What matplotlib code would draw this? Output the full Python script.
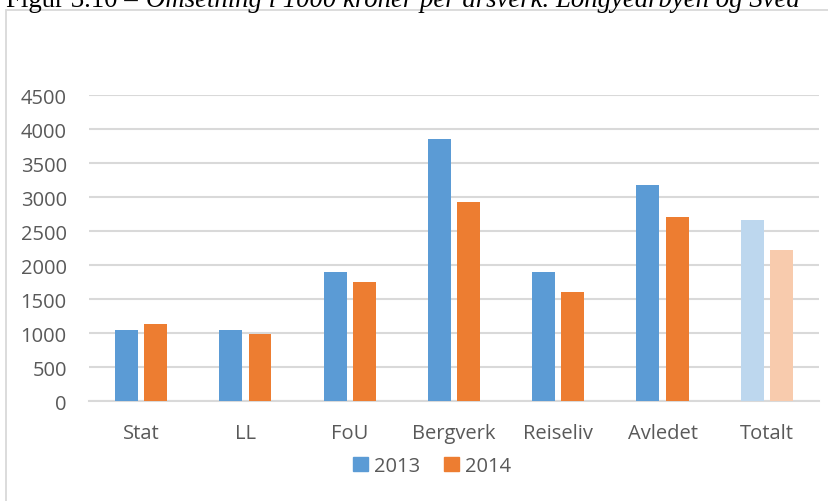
import matplotlib.pyplot as plt
import matplotlib.patches as mpatches
import numpy as np

# data
categories = ['Stat', 'LL', 'FoU', 'Bergverk', 'Reiseliv', 'Avledet', 'Totalt']
v2013 = [1050, 1055, 1900, 3860, 1900, 3180, 2665]
v2014 = [1140, 990, 1760, 2925, 1610, 2705, 2225]
series = ['2013', '2014']
yticks = [0, 500, 1000, 1500, 2000, 2500, 3000, 3500, 4000, 4500]

blue, orange = '#5B9BD5', '#ED7D31'
blue_l, orange_l = '#BDD7EE', '#F8CBAD'
grey_txt = '#595959'

fig = plt.figure(figsize=(8.29, 5.02), dpi=100)
W, H = 829, 502

# outer chart frame (light grey, runs off the image right/bottom)
fig.patches.append(mpatches.Rectangle((6 / W, -0.05), 1.0, 1 - 11 / H + 0.05,
                                      transform=fig.transFigure, fill=False,
                                      edgecolor='#D9D9D9', linewidth=1.3))

# cropped caption at the very top
cap_size = 19.3
t1 = fig.text(6 / W, 1 - 7 / H, 'Figur 3.10 – ', fontsize=cap_size,
              family='Liberation Serif', va='baseline', ha='left', color='black')
fig.canvas.draw()
bb = t1.get_window_extent()
fig.text(bb.x1 / W + 2 / W, 1 - 7 / H,
         'Omsetning i 1000 kroner per årsverk. Longyearbyen og Svea',
         fontsize=cap_size, family='Liberation Serif', style='italic',
         va='baseline', ha='left', color='black')

ax = fig.add_axes([89 / W, 99.7 / H, 730 / W, 306 / H])

x = np.arange(len(categories))
w = 0.22
off = 0.14
c13 = [blue] * (len(categories) - 1) + [blue_l]
c14 = [orange] * (len(categories) - 1) + [orange_l]
ax.bar(x - off, v2013, w, color=c13, zorder=3)
ax.bar(x + off, v2014, w, color=c14, zorder=3)

ax.set_xlim(-0.5, len(categories) - 0.5)
ax.set_ylim(0, 4500)
ax.set_yticks(yticks)
ax.set_xticks(x)
ax.set_xticklabels(categories)
ax.yaxis.grid(True, color='#D9D9D9', linewidth=1.5, zorder=0)
ax.set_axisbelow(True)
for s in ['top', 'right', 'left']:
    ax.spines[s].set_visible(False)
ax.spines['bottom'].set_color('#D9D9D9')
ax.spines['bottom'].set_linewidth(1.5)
ax.tick_params(axis='both', length=0, labelsize=14.5, labelcolor=grey_txt)
ax.tick_params(axis='y', pad=16)
ax.tick_params(axis='x', pad=15.5)
for lab in ax.get_xticklabels() + ax.get_yticklabels():
    lab.set_family('Open Sans')

handles = [mpatches.Patch(color=blue, label=series[0]),
           mpatches.Patch(color=orange, label=series[1])]
leg = fig.legend(handles=handles, loc='center', bbox_to_anchor=(432 / W, 1 - 467 / H),
                 ncol=2, frameon=False, prop={'family': 'Open Sans', 'size': 14.5},
                 handlelength=0.75, handleheight=0.75, handletextpad=0.3,
                 columnspacing=1.2)
for t in leg.get_texts():
    t.set_color(grey_txt)

fig.savefig('out.png', dpi=100)
